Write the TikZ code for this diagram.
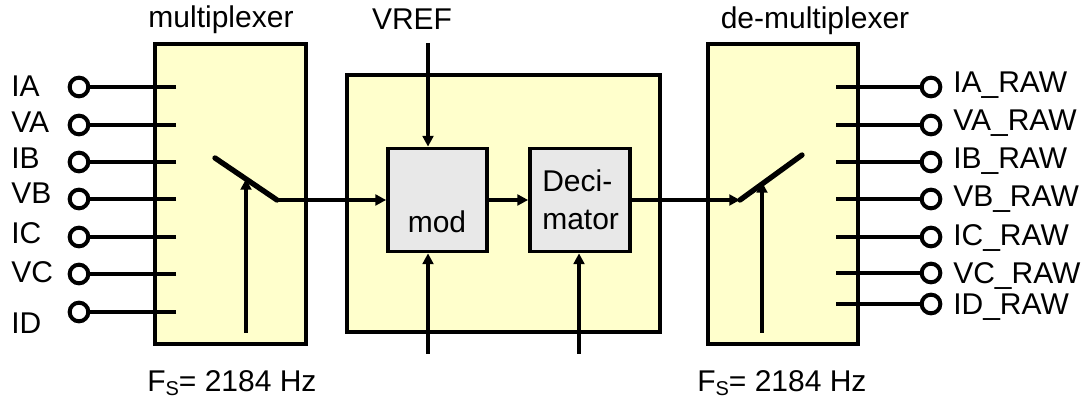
\documentclass[tikz,border=0pt]{standalone}
\usepackage{fontspec}
\setmainfont{Liberation Sans}
\usetikzlibrary{arrows.meta}
\definecolor{boxyellow}{HTML}{FFFFCC}
\definecolor{boxgray}{HTML}{E8E8E8}
\newcommand{\fsub}{F\raisebox{-0.12em}{\fontsize{15}{16}\selectfont S}}
\begin{document}
\begin{tikzpicture}[x=0.75pt,y=-0.75pt,
  every node/.style={font=\fontsize{22.5}{25}\selectfont, inner sep=0pt},
  smallbox/.style={draw, line width=2.8pt, fill=boxgray},
  bigbox/.style={draw, line width=2.8pt, fill=boxyellow},
  term/.style={circle, draw, line width=3pt, fill=white, minimum size=14pt},
  wire/.style={line width=3pt},
  blade/.style={line width=4pt, line cap=round},
  arr/.style={line width=2.8pt, -{Triangle[length=8pt,width=8pt]}},
  lbl/.style={anchor=base west},
  ttl/.style={anchor=base}]
\useasboundingbox (0,0) rectangle (1088,402);
% boxes
\node[bigbox, minimum width=151*0.75pt, minimum height=300*0.75pt] (mux) at (230.5,194) {};
\node[bigbox, minimum width=313*0.75pt, minimum height=257*0.75pt] (mid) at (503.5,203.5) {};
\node[bigbox, minimum width=150*0.75pt, minimum height=300*0.75pt] (demux) at (783,194) {};
\node[smallbox, minimum width=99*0.75pt, minimum height=103*0.75pt] (mod) at (437.5,200) {};
\node[smallbox, minimum width=100*0.75pt, minimum height=103*0.75pt] (dec) at (580,200) {};
\node[ttl] at (437,233) {mod};
\node[lbl] at (542,192) {Deci-};
\node[lbl] at (542,230) {mator};
% titles
\node[ttl] (tmux) at (221,28) {multiplexer};
\node[ttl] (tvref) at (412,30) {VREF};
\node[ttl] (tdemux) at (815,29) {de-multiplexer};
\node[lbl] (fs1) at (147,392) {\fsub= 2184 Hz};
\node[lbl] (fs2) at (697,392) {\fsub= 2184 Hz};
% inputs
\foreach \n/\y/\b in {IA/87/97, VA/125/133, IB/162/169, VB/199/204, IC/237/244, VC/274/283, ID/312/334}{
  \node[lbl] (l\n) at (11,\b) {\n};
  \coordinate (s\n) at (176,\y);
  \draw[wire] (s\n) -- (79,\y) node[term] (c\n) {};
}
% outputs
\foreach \n/\y/\b in {IA/87/93, VA/125/131, IB/162/169, VB/199/207, IC/237/246, VC/273/284, ID/304/315}{
  \coordinate (o\n) at (836,\y);
  \draw[wire] (o\n) -- (931,\y) node[term] (d\n) {};
  \node[lbl] (r\n) at (953,\b) {\n\_RAW};
}
% multiplexer switch
\coordinate (mb1) at (215,158);
\coordinate (mp) at (277,200);
\coordinate (mc) at (246,333);
\coordinate (mt) at (246,179);
\draw[blade] (mb1) -- (mp);
\draw[arr] (mp) -- (mod.west);
\draw[arr] (mc) -- (mt);
% mid arrows
\coordinate (vr) at (428,43);
\coordinate (mb) at (428,354);
\coordinate (db) at (579,354);
\draw[arr] (vr) -- (mod.north -| vr);
\draw[arr] (mb) -- (mod.south -| mb);
\draw[arr] (db) -- (dec.south -| db);
\draw[arr] (mod.east) -- (dec.west);
% demux switch
\coordinate (dp) at (740,200);
\coordinate (db1) at (802,155);
\coordinate (dc) at (762,333);
\coordinate (dt) at (762,182);
\draw[arr] (dec.east) -- (dp);
\draw[blade] (dp) -- (db1);
\draw[arr] (dc) -- (dt);
\end{tikzpicture}
\end{document}
